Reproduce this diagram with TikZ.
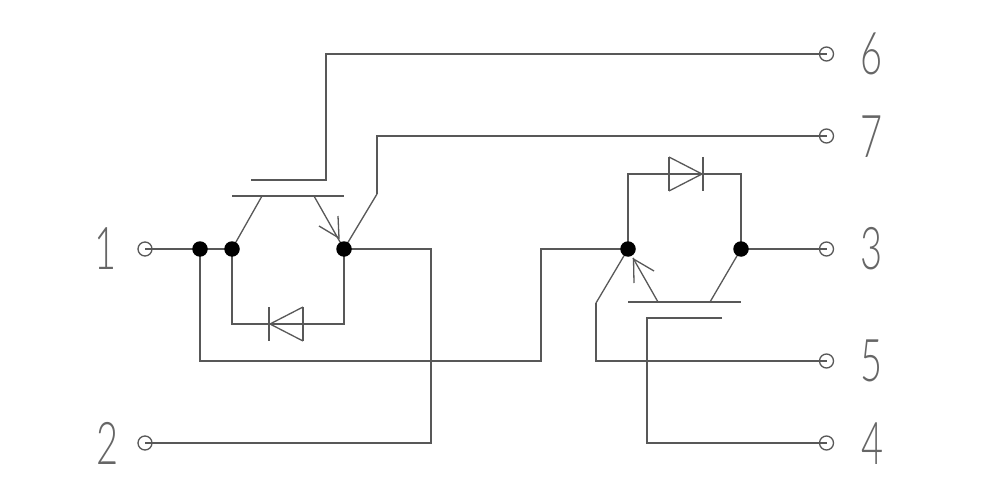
\documentclass[tikz,border=0pt]{standalone}
\usepackage{fontspec}
\newfontfamily\digfont{Lato Light}
\definecolor{wire}{HTML}{585858}
\definecolor{digit}{HTML}{666666}
\pgfdeclarelayer{front}
\pgfsetlayers{main,front}
\tikzset{
  wireline/.style={draw=wire,line width=1.3pt,line join=miter},
  junction/.style={circle,fill=black,draw=none,inner sep=0pt,minimum size=15.5pt},
  terminal/.style={circle,draw=wire,line width=1.3pt,fill=none,inner sep=0pt,minimum size=14pt},
  digitlabel/.style={text=digit,inner sep=0pt,font=\digfont\fontsize{38}{38}\selectfont,xscale=1.0,yscale=1.55}
}
\begin{document}
\begin{tikzpicture}[x=1pt,y=-1pt]
\useasboundingbox[fill=white] (0,0) rectangle (1000,489);
\begin{pgfonlayer}{front}
% terminals
\node[terminal] (t6) at (826.5,54) {};
\node[terminal] (t7) at (826.5,136) {};
\node[terminal] (t3) at (826.5,249) {};
\node[terminal] (t5) at (826.5,361) {};
\node[terminal] (t4) at (826.5,443) {};
\node[terminal] (t1) at (145,249) {};
\node[terminal] (t2) at (145,443) {};
% junctions
\node[junction] (ja) at (200,249) {};
\node[junction] (jb) at (232,249) {};
\node[junction] (jc) at (344,249) {};
\node[junction] (jd) at (628,249) {};
\node[junction] (je) at (741,249) {};
% labels
\node[digitlabel] (l6) at (872,54) {6};
\node[digitlabel] (l7) at (872,137) {7};
\node[digitlabel] (l3) at (872,249) {3};
\node[digitlabel] (l5) at (872,361) {5};
\node[digitlabel] (l4) at (873,444) {4};
\node[digitlabel] (l1) at (106,249) {1};
\node[digitlabel] (l2) at (108,443) {2};
\end{pgfonlayer}
\coordinate (k7) at (377,194);
\coordinate (k5) at (596,303);
% wires to terminals
\draw[wireline] (t1.center) -- (jb.center);
\draw[wireline] (ja.center) |- (541,361) |- (jd.center);
\draw[wireline] (jc.center) -| (431,443) -- (t2.center);
% left IGBT
\draw[wireline] (232,196) -- (344,196);
\draw[wireline] (251,180) -- (326,180) -- (326,54) -- (t6.center);
\draw[wireline] (262,196) -- (jb.center);
\draw[wireline] (314,196) -- (jc.center);
\draw[wireline] (319,226) -- (339,238) -- (338,216);
\draw[wireline] (jc.center) -- (k7);
\draw[wireline] (k7) |- (t7.center);
% left diode
\draw[wireline] (jb.center) |- (344,324) -- (jc.center);
\draw[wireline] (269,307) -- (269,341);
\draw[wireline] (303,307) -- (303,341);
\draw[wireline] (303,307) -- (270,324) -- (303,341);
% right IGBT
\draw[wireline] (628,302) -- (741,302);
\draw[wireline] (722,318) -- (647,318) -- (647,443) -- (t4.center);
\draw[wireline] (710,302) -- (je.center);
\draw[wireline] (658,302) -- (633,258);
\draw[wireline] (654,271) -- (633.5,259) -- (634,283);
\draw[wireline] (jd.center) -- (k5);
\draw[wireline] (k5) |- (t5.center);
\draw[wireline] (je.center) -- (t3.center);
% right diode
\draw[wireline] (jd.center) |- (741,174) -- (je.center);
\draw[wireline] (703,157) -- (703,191);
\draw[wireline] (669,157) -- (669,191);
\draw[wireline] (669,157) -- (702,174) -- (669,191);
\end{tikzpicture}
\end{document}
